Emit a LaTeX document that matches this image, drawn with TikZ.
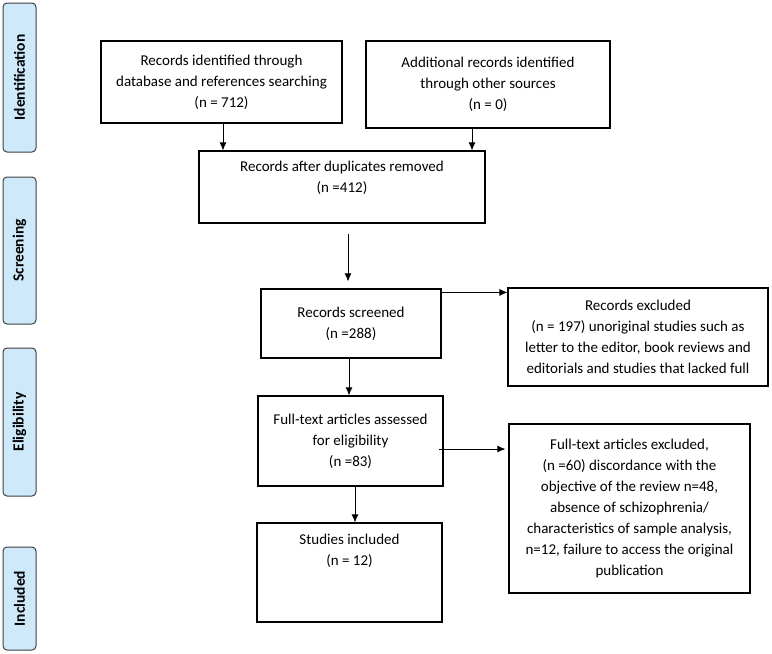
\documentclass[tikz,border=0pt]{standalone}
\usepackage{fontspec}
\setmainfont{Carlito}
\usetikzlibrary{arrows.meta,positioning,calc}
\definecolor{phasefill}{RGB}{206,234,250}
\tikzset{>={Latex[length=8pt,width=7pt]}, line/.style={line width=1pt}, box/.style={draw, line width=1.1pt, align=center, inner sep=2pt, font=\fontsize{15}{21}\selectfont},
boxtext/.style={align=center, inner sep=2pt, font=\fontsize{15}{21}\selectfont},
phase/.style={draw=black!75, line width=1pt, fill=phasefill, rounded corners=4pt, rotate=90, minimum height=33pt, inner sep=0pt, font=\fontsize{15.5}{18}\selectfont\bfseries}}

\begin{document}
\begin{tikzpicture}[x=1pt, y=-1pt]
\useasboundingbox (0,0) rectangle (772,654);

% phase bars
\node[phase, minimum width=149pt] (identbar) at (19.5,77.5) {Identification};
\node[phase, minimum width=147pt] (screenbar) at (19.5,250.5) {Screening};
\node[phase, minimum width=148pt] (eligbar) at (19.5,422) {Eligibility};
\node[phase, minimum width=103pt] (inclbar) at (19.5,598.5) {Included};

% flow boxes
\node[box, minimum width=241pt, minimum height=82pt] (found) at (221.5,82) {Records identified through\\database and references searching\\(n = 712)};
\node[box, minimum width=244pt, minimum height=87pt] (other) at (488,84.5) {Additional records identified\\through other sources\\(n = 0)};
\node[box, minimum width=286pt, minimum height=72pt] (dedup) at (342,187) {};
\node[boxtext, anchor=north] (deduptext) at ([yshift=-8pt]dedup.north) {Records after duplicates removed\\(n =412)};
\node[box, minimum width=180pt, minimum height=69pt] (screened) at (351,323.5) {Records screened\\(n =288)};
\node[box, minimum width=260pt, minimum height=98pt] (excl) at (638,337) {Records excluded\\(n = 197) unoriginal studies such as\\letter to the editor, book reviews and\\editorials and studies that lacked full};
\node[box, minimum width=185pt, minimum height=90pt] (fulltext) at (350.5,441) {Full-text articles assessed\\for eligibility\\(n =83)};
\node[box, minimum width=241pt, minimum height=169pt] (ftexcl) at (629.5,508.5) {Full-text articles excluded,\\(n =60) discordance with the\\objective of the review n=48,\\absence of schizophrenia/\\characteristics of sample analysis,\\n=12, failure to access the original\\publication};
\node[box, minimum width=185pt, minimum height=99pt] (included) at (349.5,572.5) {};
\node[boxtext, anchor=north] (incltext) at ([yshift=-9pt]included.north) {Studies included\\(n = 12)};

% connectors
\draw[->,line] ([xshift=1.5pt]found.south) -- ([xshift=1.5pt]found.south |- dedup.north);
\draw[->,line] ([xshift=-16pt]other.south) -- ([xshift=-16pt]other.south |- dedup.north);
\draw[->,line, shorten <=10pt, shorten >=7pt] ([xshift=-3pt]screened.north |- dedup.south) -- ([xshift=-3pt]screened.north);
\draw[->,line] ([yshift=-4pt]screened.north east) coordinate (scr) -- (scr -| excl.west);
\draw[->,line] ([xshift=-2pt]screened.south) -- ([xshift=-2pt]screened.south |- fulltext.north);
\draw[->,line] ([xshift=-5pt,yshift=-8pt]fulltext.east) coordinate (ft) -- ([xshift=-3pt]ft -| ftexcl.west);
\draw[->,line] ([xshift=4.5pt]fulltext.south) -- ([xshift=4.5pt]fulltext.south |- included.north);
\end{tikzpicture}
\end{document}
